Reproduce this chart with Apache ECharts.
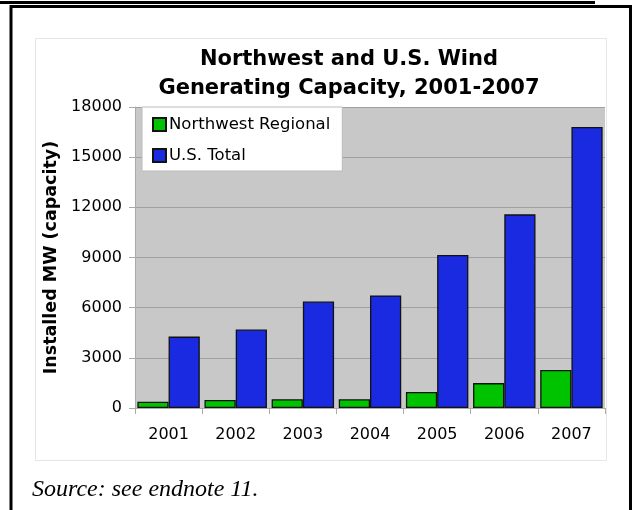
<!DOCTYPE html>
<html>
<head>
<meta charset="utf-8">
<script src="https://cdn.jsdelivr.net/npm/echarts@6/dist/echarts.min.js"></script>
<style>
  html, body { margin: 0; padding: 0; background: #fff; }
  #main { width: 635px; height: 510px; }
</style>
</head>
<body>
<div id="main"></div>
<script>
var years = ['2001', '2002', '2003', '2004', '2005', '2006', '2007'];
var nwRegional = [370, 480, 520, 520, 960, 1490, 2270];
var usTotal = [4270, 4690, 6370, 6730, 9150, 11580, 16800];

var chartDom = document.getElementById('main');
var myChart = echarts.init(chartDom);
var option;

option = {
  animation: false,
  title: {
    text: 'Northwest and U.S. Wind\nGenerating Capacity, 2001-2007',
    left: 349,
    top: 45,
    padding: 0,
    textAlign: 'center',
    textStyle: {
      fontFamily: 'DejaVu Sans',
      fontWeight: 'bold',
      fontSize: 21,
      lineHeight: 29,
      color: '#000'
    }
  },
  legend: {
    orient: 'vertical',
    left: 142,
    top: 107,
    padding: [9, 12, 7, 10],
    itemGap: 14,
    itemWidth: 13,
    itemHeight: 13,
    backgroundColor: '#fff',
    borderColor: '#bbb',
    borderWidth: 1,
    borderRadius: 0,
    icon: 'rect',
    textStyle: {
      fontFamily: 'DejaVu Sans',
      fontSize: 16.5,
      color: '#000',
      padding: [0, 0, 0, -2]
    },
    data: ['Northwest Regional', 'U.S. Total']
  },
  grid: {
    left: 135,
    right: 30,
    top: 107,
    bottom: 102,
    show: true,
    backgroundColor: '#c8c8c8',
    borderWidth: 0
  },
  xAxis: {
    type: 'category',
    data: years,
    axisLine: { lineStyle: { color: '#aaa', width: 1 } },
    axisTick: { show: true, alignWithLabel: false, length: 6, lineStyle: { color: '#aaa' } },
    axisLabel: {
      fontFamily: 'DejaVu Sans',
      fontSize: 16,
      color: '#000',
      margin: 19
    }
  },
  yAxis: {
    type: 'value',
    min: 0,
    max: 18000,
    interval: 3000,
    name: 'Installed MW (capacity)',
    nameLocation: 'middle',
    nameGap: 72,
    nameTextStyle: {
      fontFamily: 'DejaVu Sans',
      fontWeight: 'bold',
      fontSize: 17.5,
      color: '#000'
    },
    axisLine: { show: true, lineStyle: { color: '#aaa', width: 1 } },
    axisTick: { show: true, length: 6, lineStyle: { color: '#aaa' } },
    axisLabel: {
      fontFamily: 'DejaVu Sans',
      fontSize: 16,
      color: '#000',
      margin: 13,
      formatter: function (v) { return String(v); }
    },
    splitLine: { lineStyle: { color: '#a0a0a0', width: 1 } }
  },
  series: [
    {
      name: 'Northwest Regional',
      type: 'bar',
      data: nwRegional,
      barGap: '0%',
      barCategoryGap: '7%',
      itemStyle: { color: '#00c300', borderColor: '#111', borderWidth: 1.3 }
    },
    {
      name: 'U.S. Total',
      type: 'bar',
      data: usTotal,
      barGap: '0%',
      barCategoryGap: '7%',
      itemStyle: { color: '#1a2ae0', borderColor: '#111', borderWidth: 1.3 }
    }
  ],
  graphic: [
    {
      type: 'rect',
      z: -10,
      silent: true,
      shape: { x: 35.5, y: 38.5, width: 571, height: 422 },
      style: { fill: '#fff', stroke: '#e6e6e6', lineWidth: 1 }
    },
    {
      type: 'rect',
      silent: true,
      shape: { x: 0, y: 1, width: 595, height: 3 },
      style: { fill: '#000' }
    },
    {
      type: 'polyline',
      silent: true,
      shape: { points: [[11, 520], [11, 6.5], [630.5, 6.5], [630.5, 520]] },
      style: { stroke: '#000', lineWidth: 3, fill: null }
    },
    {
      type: 'text',
      silent: true,
      left: 32,
      top: 478,
      style: {
        text: 'Source: see endnote 11.',
        font: 'italic 24px "Liberation Serif"',
        fill: '#000'
      }
    }
  ]
};
option && myChart.setOption(option);
</script>
</body>
</html>
